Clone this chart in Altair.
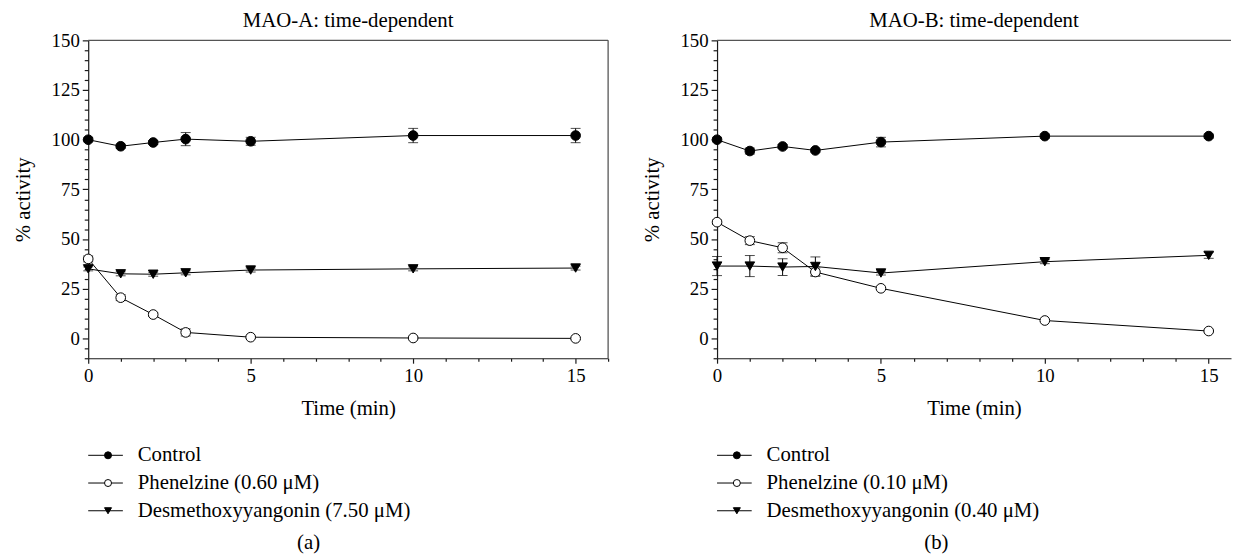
import altair as alt
import pandas as pd

FONT = "Liberation Serif"

time_min = [0, 1, 2, 3, 5, 10, 15]
kinds = ["ctrl", "phen", "desm"]

names_a = ["Control", "Phenelzine (0.60 μM)", "Desmethoxyyangonin (7.50 μM)"]
names_b = ["Control", "Phenelzine (0.10 μM)", "Desmethoxyyangonin (0.40 μM)"]

ctrl_a = [100.0, 96.7, 98.6, 100.3, 99.2, 102.1, 102.1]
ctrl_a_err = [1.0, 1.0, 1.0, 3.3, 2.0, 3.6, 3.6]
phen_a = [40.0, 20.5, 12.0, 3.0, 0.6, 0.2, 0.0]
phen_a_err = [1.5, 1.5, 1.0, 1.8, 0.5, 0.5, 0.5]
desm_a = [35.0, 32.5, 32.3, 33.0, 34.4, 35.0, 35.4]
desm_a_err = [1.0, 1.0, 1.0, 1.0, 1.0, 1.0, 1.0]

ctrl_b = [100.0, 94.3, 96.6, 94.6, 98.8, 101.8, 101.8]
ctrl_b_err = [1.0, 1.5, 1.0, 0.8, 2.4, 1.0, 1.0]
phen_b = [58.5, 49.2, 45.6, 33.4, 25.2, 9.0, 3.7]
phen_b_err = [1.0, 2.0, 2.5, 2.0, 0.5, 0.5, 0.5]
desm_b = [36.4, 36.4, 35.9, 36.2, 32.9, 38.6, 41.8]
desm_b_err = [4.8, 5.3, 4.2, 4.8, 1.0, 1.0, 1.5]

y_ticks = list(range(-10, 151, 5))
shape_range = ["circle", "circle", "triangle-down"]
fill_range = ["black", "white", "black"]
INK = "#1a1a1a"
FRAME = "#555555"


def make_panel(title, names, vals, errs, width, xmax, x_ticks, caption, cap_dx, right_frame):
    rows = []
    for kind, name, v, e in zip(kinds, names, vals, errs):
        for t, vv, ee in zip(time_min, v, e):
            rows.append({"time": t, "value": vv, "err": ee, "series": name, "kind": kind})
    df = pd.DataFrame(rows)
    height = 321

    xscale = alt.Scale(domain=[0, xmax], nice=False, zero=False)
    yscale = alt.Scale(domain=[-10, 150], nice=False, zero=False)
    xaxis = alt.Axis(
        values=x_ticks,
        labelExpr="datum.value % 5 === 0 ? datum.label : ''",
        tickSize={"condition": {"test": "datum.value % 5 === 0", "value": 5}, "value": 3},
        labelOverlap=False,
        labelFlush=False,
        grid=False,
        title="Time (min)",
        titlePadding=13,
    )
    yaxis = alt.Axis(
        values=y_ticks,
        labelExpr="datum.value % 25 === 0 ? datum.label : ''",
        tickSize={"condition": {"test": "datum.value % 25 === 0", "value": 6}, "value": 4},
        labelOverlap=False,
        labelFlush=False,
        grid=False,
        title="% activity",
        titlePadding=18,
    )

    def X():
        return alt.X("time:Q", scale=xscale, axis=xaxis)

    def Y(field):
        return alt.Y(field, scale=yscale, axis=yaxis)

    shape = alt.Shape("kind:N", scale=alt.Scale(domain=kinds, range=shape_range), legend=None)
    fill = alt.Fill("kind:N", scale=alt.Scale(domain=kinds, range=fill_range), legend=None)

    base = alt.Chart(df)
    lines = base.mark_line(color="black", strokeWidth=1).encode(x=X(), y=Y("value:Q"), detail="kind:N")
    eb = base.transform_calculate(lo="datum.value - datum.err", hi="datum.value + datum.err")
    bars = eb.mark_rule(color="black", strokeWidth=1).encode(x=X(), y=Y("lo:Q"), y2="hi:Q")
    cap_lo = eb.mark_tick(color="black", orient="horizontal", size=10, thickness=1).encode(
        x=X(), y=Y("lo:Q")
    )
    cap_hi = eb.mark_tick(color="black", orient="horizontal", size=10, thickness=1).encode(
        x=X(), y=Y("hi:Q")
    )
    pts = base.mark_point(filled=True, stroke="black", strokeWidth=1, size=95, opacity=1).encode(
        x=X(), y=Y("value:Q"), shape=shape, fill=fill
    )
    frame_df = pd.DataFrame({"k": [0]})
    top = alt.Chart(frame_df).mark_rule(color=FRAME, strokeWidth=1.3).encode(
        x=alt.value(0), x2=alt.value(width), y=alt.value(0)
    )
    layers = [lines, bars, cap_lo, cap_hi, pts, top]
    if right_frame:
        right = alt.Chart(frame_df).mark_rule(color=FRAME, strokeWidth=1.3).encode(
            x=alt.value(width), y=alt.value(0), y2=alt.value(height)
        )
        layers.append(right)
    plot = alt.layer(*layers).properties(
        width=width,
        height=height,
        title=alt.TitleParams(title, font=FONT, fontSize=21, fontWeight="normal", color="black",
                              anchor="middle", offset=0),
    )

    leg_df = pd.DataFrame({"series": names, "kind": kinds, "idx": [0, 1, 2]})
    ly = alt.Y("idx:Q", scale=alt.Scale(domain=[-0.5, 2.5], reverse=True, nice=False, zero=False), axis=None)
    lshape = alt.Shape("kind:N", scale=alt.Scale(domain=kinds, range=shape_range), legend=None)
    lfill = alt.Fill("kind:N", scale=alt.Scale(domain=kinds, range=fill_range), legend=None)
    lb = alt.Chart(leg_df)
    x0 = 0
    leg = alt.layer(
        lb.mark_rule(color="black", strokeWidth=1).encode(x=alt.value(x0), x2=alt.value(x0 + 35), y=ly),
        lb.mark_point(filled=True, stroke="black", strokeWidth=1, size=50, opacity=1).encode(
            x=alt.value(x0 + 20), y=ly, shape=lshape, fill=lfill
        ),
        lb.mark_text(align="left", baseline="middle", font=FONT, fontSize=21, color="black").encode(
            x=alt.value(x0 + 50), y=ly, text="series:N"
        ),
    ).properties(
        width=width,
        height=84,
        title=alt.TitleParams(caption, orient="bottom", font=FONT, fontSize=21, fontWeight="normal",
                              color="black", anchor="middle", offset=8, dx=cap_dx),
    )
    return alt.vconcat(plot, leg, spacing=23)


panel_a = make_panel("MAO-A: time-dependent", names_a,
                     [ctrl_a, phen_a, desm_a], [ctrl_a_err, phen_a_err, desm_a_err],
                     525, 16, list(range(0, 17)), "(a)", -40, True)
panel_b = make_panel("MAO-B: time-dependent", names_b,
                     [ctrl_b, phen_b, desm_b], [ctrl_b_err, phen_b_err, desm_b_err],
                     519, 15.68, list(range(0, 16)), "(b)", -38, False)

chart = alt.hconcat(panel_a, panel_b, spacing=32).properties(
    padding={"left": 4, "top": 0, "right": 0, "bottom": 0}
).configure_view(strokeWidth=0).configure_axis(
    labelFont=FONT, labelFontSize=19, labelColor="black", labelPadding=3, labelOverlap=False,
    titleFont=FONT, titleFontSize=21, titleFontWeight="normal", titleColor="black",
    domainColor=INK, tickColor=INK, domainWidth=1.2, tickWidth=1.2,
).configure_concat(spacing=32)

chart.save("out.html", embed_options={"renderer": "svg", "actions": False})
